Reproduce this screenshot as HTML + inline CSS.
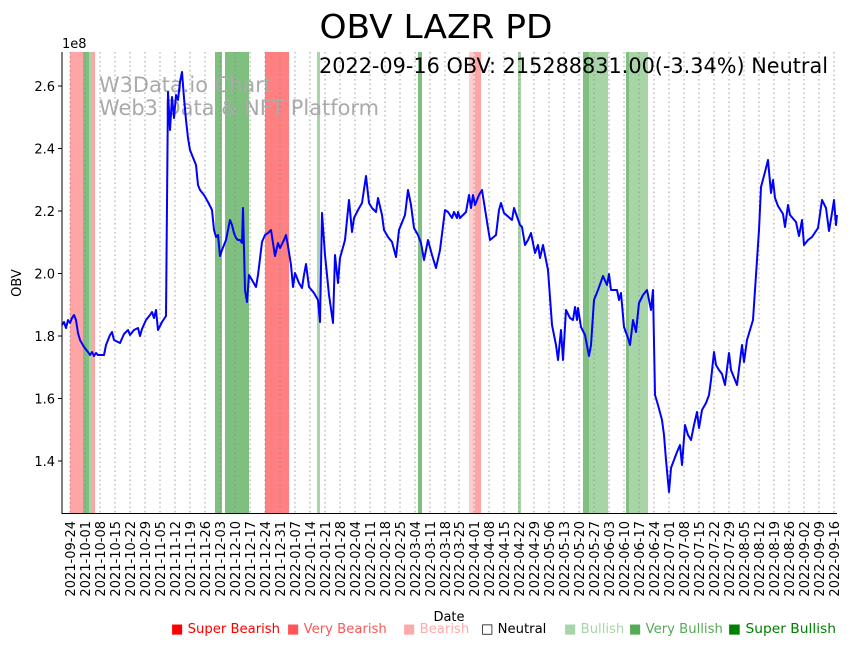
<!DOCTYPE html>
<html><head><meta charset="utf-8"><style>
body{margin:0;background:#fff;}
svg{display:block;font-family:"DejaVu Sans","Liberation Sans",sans-serif;}
</style></head><body>
<svg width="853" height="646" viewBox="0 0 853 646" xmlns="http://www.w3.org/2000/svg">
<rect width="853" height="646" fill="#fff"/>
<g>
<rect x="70" y="52" width="13" height="461" fill="#ffa5a5"/>
<rect x="83" y="52" width="6" height="461" fill="#7fbf7f"/>
<rect x="89" y="52" width="3" height="461" fill="#a8d5a8"/>
<rect x="92" y="52" width="3" height="461" fill="#ffa5a5"/>
<rect x="215" y="52" width="7" height="461" fill="#7fbf7f"/>
<rect x="225" y="52" width="24" height="461" fill="#7fbf7f"/>
<rect x="265" y="52" width="24" height="461" fill="#ff8080"/>
<rect x="317" y="52" width="3" height="461" fill="#a8d5a8"/>
<rect x="418" y="52" width="4" height="461" fill="#7fbf7f"/>
<rect x="469" y="52" width="6" height="461" fill="#ffcccc"/>
<rect x="475" y="52" width="6" height="461" fill="#ffa5a5"/>
<rect x="518" y="52" width="3" height="461" fill="#a8d5a8"/>
<rect x="583" y="52" width="6" height="461" fill="#7fbf7f"/>
<rect x="589" y="52" width="19" height="461" fill="#a8d5a8"/>
<rect x="626" y="52" width="3" height="461" fill="#7fbf7f"/>
<rect x="629" y="52" width="19" height="461" fill="#a8d5a8"/>
</g>
<g stroke="#888" stroke-width="0.8" stroke-dasharray="1.5,3">
<line x1="70" y1="52" x2="70" y2="513"/><line x1="85" y1="52" x2="85" y2="513"/><line x1="100" y1="52" x2="100" y2="513"/><line x1="115" y1="52" x2="115" y2="513"/><line x1="130" y1="52" x2="130" y2="513"/><line x1="145" y1="52" x2="145" y2="513"/><line x1="160" y1="52" x2="160" y2="513"/><line x1="175" y1="52" x2="175" y2="513"/><line x1="190" y1="52" x2="190" y2="513"/><line x1="205" y1="52" x2="205" y2="513"/><line x1="220" y1="52" x2="220" y2="513"/><line x1="235" y1="52" x2="235" y2="513"/><line x1="250" y1="52" x2="250" y2="513"/><line x1="265" y1="52" x2="265" y2="513"/><line x1="280" y1="52" x2="280" y2="513"/><line x1="295" y1="52" x2="295" y2="513"/><line x1="310" y1="52" x2="310" y2="513"/><line x1="325" y1="52" x2="325" y2="513"/><line x1="340" y1="52" x2="340" y2="513"/><line x1="355" y1="52" x2="355" y2="513"/><line x1="370" y1="52" x2="370" y2="513"/><line x1="385" y1="52" x2="385" y2="513"/><line x1="400" y1="52" x2="400" y2="513"/><line x1="415" y1="52" x2="415" y2="513"/><line x1="430" y1="52" x2="430" y2="513"/><line x1="445" y1="52" x2="445" y2="513"/><line x1="459" y1="52" x2="459" y2="513"/><line x1="474" y1="52" x2="474" y2="513"/><line x1="489" y1="52" x2="489" y2="513"/><line x1="504" y1="52" x2="504" y2="513"/><line x1="519" y1="52" x2="519" y2="513"/><line x1="534" y1="52" x2="534" y2="513"/><line x1="549" y1="52" x2="549" y2="513"/><line x1="564" y1="52" x2="564" y2="513"/><line x1="579" y1="52" x2="579" y2="513"/><line x1="594" y1="52" x2="594" y2="513"/><line x1="609" y1="52" x2="609" y2="513"/><line x1="624" y1="52" x2="624" y2="513"/><line x1="639" y1="52" x2="639" y2="513"/><line x1="654" y1="52" x2="654" y2="513"/><line x1="669" y1="52" x2="669" y2="513"/><line x1="684" y1="52" x2="684" y2="513"/><line x1="699" y1="52" x2="699" y2="513"/><line x1="714" y1="52" x2="714" y2="513"/><line x1="729" y1="52" x2="729" y2="513"/><line x1="744" y1="52" x2="744" y2="513"/><line x1="759" y1="52" x2="759" y2="513"/><line x1="774" y1="52" x2="774" y2="513"/><line x1="789" y1="52" x2="789" y2="513"/><line x1="804" y1="52" x2="804" y2="513"/><line x1="819" y1="52" x2="819" y2="513"/><line x1="834" y1="52" x2="834" y2="513"/>
</g>
<text x="99" y="92" font-size="21" fill="#aaa" textLength="173" lengthAdjust="spacingAndGlyphs">W3Data.io Chart</text>
<text x="99" y="115" font-size="21" fill="#aaa" textLength="280" lengthAdjust="spacingAndGlyphs">Web3 Data &amp; NFT Platform</text>
<polyline fill="none" stroke="#0000ff" stroke-width="2" stroke-linejoin="round" points="62,325 64,322 66,328 68,320 70,323 72,318 74,315 76,320 78,333 80,340 84,347 88,352 90,355 92,352 94,356 96,353 98,355 104,355 106,345 110,335 112,332 114,340 120,343 124,334 128,330 130,335 134,330 138,328 140,336 142,329 146,320 150,315 152,312 154,318 156,310 158,330 162,322 166,316 168,92 170,130 172,97 174,118 176,95 178,100 180,82 182,72 184,98 186,120 188,138 190,150 192,155 194,160 196,165 198,185 200,190 204,195 208,202 212,210 214,230 216,237 218,235 220,256 222,250 226,240 228,230 230,220 232,225 234,233 236,238 238,240 240,240 242,243 243,208 245,290 247,302 249,275 252,280 256,287 258,275 262,242 265,235 268,233 271,230 275,256 278,243 280,248 284,240 286,235 288,246 291,265 293,287 295,273 299,283 302,288 304,275 306,264 309,287 314,293 318,300 320,322 322,213 325,255 329,295 333,323 335,255 338,283 340,258 345,240 349,200 352,232 354,218 358,210 362,203 366,176 369,203 372,208 376,212 378,198 382,215 384,230 388,237 392,242 396,257 399,230 401,225 405,215 408,190 411,205 414,228 418,235 421,243 424,260 428,240 432,255 436,268 440,250 445,210 448,212 452,218 454,212 457,218 458,212 460,218 466,212 469,195 471,208 473,195 475,205 479,195 482,190 488,228 490,240 496,235 499,210 501,203 504,213 512,220 514,208 520,225 522,227 525,245 528,240 531,233 535,253 538,245 540,258 543,245 548,270 552,325 556,345 558,360 561,330 563,360 566,310 570,318 573,320 575,307 577,320 578,308 581,327 585,335 589,356 591,345 594,300 598,290 603,276 607,285 609,274 611,290 617,290 619,300 621,293 624,327 628,338 630,345 633,320 636,332 639,303 643,295 647,290 651,310 653,290 655,395 658,405 662,420 664,435 666,460 669,492 671,468 674,460 677,452 680,445 682,465 685,425 688,435 691,440 694,425 697,412 699,428 702,410 706,403 709,395 711,380 714,352 716,365 719,370 722,374 725,385 729,353 731,370 737,385 742,345 744,362 747,340 750,330 753,320 756,275 759,230 761,187 765,172 768,160 771,193 773,180 775,198 778,206 783,214 785,227 788,205 790,215 796,222 799,236 802,220 804,245 808,240 812,237 818,228 822,200 826,208 829,231 832,213 834,200 836,225 837,215"/>
<line x1="62" y1="52" x2="62" y2="514" stroke="#000" stroke-width="1"/>
<line x1="62" y1="513.5" x2="837" y2="513.5" stroke="#000" stroke-width="1"/>
<g stroke="#000"><line x1="58" y1="86" x2="62" y2="86"/><line x1="58" y1="148.5" x2="62" y2="148.5"/><line x1="58" y1="211" x2="62" y2="211"/><line x1="58" y1="273.5" x2="62" y2="273.5"/><line x1="58" y1="336" x2="62" y2="336"/><line x1="58" y1="398.5" x2="62" y2="398.5"/><line x1="58" y1="461" x2="62" y2="461"/></g>
<g font-size="13" text-anchor="end" fill="#000">
<text x="55" y="91">2.6</text><text x="55" y="153.5">2.4</text><text x="55" y="216">2.2</text><text x="55" y="278.5">2.0</text><text x="55" y="341">1.8</text><text x="55" y="403.5">1.6</text><text x="55" y="466">1.4</text>
</g>
<text x="62" y="48" font-size="13">1e8</text>
<text transform="translate(21,283) rotate(-90)" font-size="13" text-anchor="middle">OBV</text>
<g font-size="13" text-anchor="end">
<text transform="translate(75,521) rotate(-90)">2021-09-24</text><text transform="translate(90,521) rotate(-90)">2021-10-01</text><text transform="translate(105,521) rotate(-90)">2021-10-08</text><text transform="translate(120,521) rotate(-90)">2021-10-15</text><text transform="translate(135,521) rotate(-90)">2021-10-22</text><text transform="translate(150,521) rotate(-90)">2021-10-29</text><text transform="translate(165,521) rotate(-90)">2021-11-05</text><text transform="translate(180,521) rotate(-90)">2021-11-12</text><text transform="translate(195,521) rotate(-90)">2021-11-19</text><text transform="translate(210,521) rotate(-90)">2021-11-26</text><text transform="translate(225,521) rotate(-90)">2021-12-03</text><text transform="translate(240,521) rotate(-90)">2021-12-10</text><text transform="translate(255,521) rotate(-90)">2021-12-17</text><text transform="translate(270,521) rotate(-90)">2021-12-24</text><text transform="translate(285,521) rotate(-90)">2021-12-31</text><text transform="translate(300,521) rotate(-90)">2022-01-07</text><text transform="translate(315,521) rotate(-90)">2022-01-14</text><text transform="translate(330,521) rotate(-90)">2022-01-21</text><text transform="translate(345,521) rotate(-90)">2022-01-28</text><text transform="translate(360,521) rotate(-90)">2022-02-04</text><text transform="translate(375,521) rotate(-90)">2022-02-11</text><text transform="translate(390,521) rotate(-90)">2022-02-18</text><text transform="translate(405,521) rotate(-90)">2022-02-25</text><text transform="translate(420,521) rotate(-90)">2022-03-04</text><text transform="translate(435,521) rotate(-90)">2022-03-11</text><text transform="translate(450,521) rotate(-90)">2022-03-18</text><text transform="translate(464,521) rotate(-90)">2022-03-25</text><text transform="translate(479,521) rotate(-90)">2022-04-01</text><text transform="translate(494,521) rotate(-90)">2022-04-08</text><text transform="translate(509,521) rotate(-90)">2022-04-15</text><text transform="translate(524,521) rotate(-90)">2022-04-22</text><text transform="translate(539,521) rotate(-90)">2022-04-29</text><text transform="translate(554,521) rotate(-90)">2022-05-06</text><text transform="translate(569,521) rotate(-90)">2022-05-13</text><text transform="translate(584,521) rotate(-90)">2022-05-20</text><text transform="translate(599,521) rotate(-90)">2022-05-27</text><text transform="translate(614,521) rotate(-90)">2022-06-03</text><text transform="translate(629,521) rotate(-90)">2022-06-10</text><text transform="translate(644,521) rotate(-90)">2022-06-17</text><text transform="translate(659,521) rotate(-90)">2022-06-24</text><text transform="translate(674,521) rotate(-90)">2022-07-01</text><text transform="translate(689,521) rotate(-90)">2022-07-08</text><text transform="translate(704,521) rotate(-90)">2022-07-15</text><text transform="translate(719,521) rotate(-90)">2022-07-22</text><text transform="translate(734,521) rotate(-90)">2022-07-29</text><text transform="translate(749,521) rotate(-90)">2022-08-05</text><text transform="translate(764,521) rotate(-90)">2022-08-12</text><text transform="translate(779,521) rotate(-90)">2022-08-19</text><text transform="translate(794,521) rotate(-90)">2022-08-26</text><text transform="translate(809,521) rotate(-90)">2022-09-02</text><text transform="translate(824,521) rotate(-90)">2022-09-09</text><text transform="translate(839,521) rotate(-90)">2022-09-16</text>
</g>
<text x="449" y="621" font-size="13" text-anchor="middle">Date</text>
<text x="436" y="38" font-size="33" text-anchor="middle" textLength="233" lengthAdjust="spacingAndGlyphs">OBV LAZR PD</text>
<text x="828" y="73" font-size="21" text-anchor="end" textLength="509" lengthAdjust="spacingAndGlyphs">2022-09-16 OBV: 215288831.00(-3.34%) Neutral</text>
<g font-size="13.2">
<text x="171" y="633" fill="#ff0000">■ Super Bearish</text>
<text x="287" y="633" fill="#ff5555">■ Very Bearish</text>
<text x="403" y="633" fill="#ffaaaa">■ Bearish</text>
<text x="481" y="633" fill="#000">□ Neutral</text>
<text x="564" y="633" fill="#a8d5a8">■ Bullish</text>
<text x="629" y="633" fill="#55aa55">■ Very Bullish</text>
<text x="728" y="633" fill="#008000" textLength="108" lengthAdjust="spacingAndGlyphs">■ Super Bullish</text>
</g>
</svg>
</body></html>
